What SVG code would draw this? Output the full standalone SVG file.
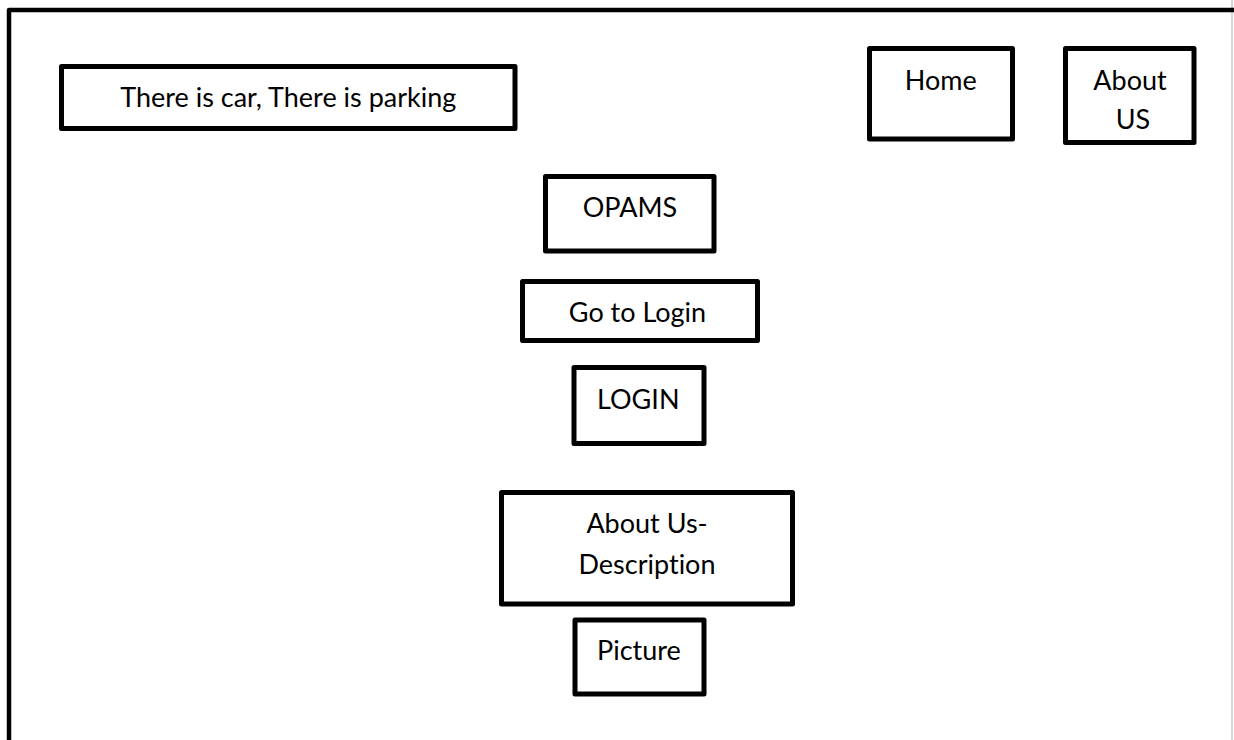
<svg xmlns="http://www.w3.org/2000/svg" width="1234" height="740" viewBox="0 0 1234 740">
<style>
.box{fill:#fff;stroke:#000;stroke-width:5;stroke-linejoin:round}
.t{font-family:Lato,"Open Sans","Liberation Sans",sans-serif;font-size:27px;fill:#000;text-anchor:middle;font-variant-ligatures:none;font-feature-settings:"liga" 0,"clig" 0}
</style>
<rect x="0" y="0" width="1234" height="740" fill="#fff"/>
<g id="frame">
<line x1="1232" y1="0" x2="1232" y2="740" stroke="#c8c8c8" stroke-width="1.5"/>
<path d="M9,742 V10 H1234" fill="none" stroke="#000" stroke-width="4.5" stroke-linejoin="round"/>
</g>
<g id="title">
<rect class="box" x="61.5" y="66.5" width="453.5" height="62"/>
<text class="t" x="288.3" y="107">There is car, There is parking</text>
</g>
<g id="home">
<rect class="box" x="869.5" y="48.5" width="143" height="90.5"/>
<text class="t" x="940.8" y="89.5">Home</text>
</g>
<g id="aboutus">
<rect class="box" x="1065.5" y="48.5" width="128.5" height="94"/>
<text class="t" x="1130" y="90">About</text>
<text class="t" x="1133" y="128.5">US</text>
</g>
<g id="opams">
<rect class="box" x="545.5" y="176.5" width="168.5" height="74.5"/>
<text class="t" x="630" y="217">OPAMS</text>
</g>
<g id="gotologin">
<rect class="box" x="522.5" y="281.5" width="235" height="59"/>
<text class="t" x="637.5" y="322">Go to Login</text>
</g>
<g id="login">
<rect class="box" x="574" y="367.5" width="130" height="76"/>
<text class="t" x="638.3" y="408.5">LOGIN</text>
</g>
<g id="description">
<rect class="box" x="501.5" y="492.5" width="291" height="111.5"/>
<text class="t" x="647" y="532.5">About Us-</text>
<text class="t" x="647" y="573.5">Description</text>
</g>
<g id="picture">
<rect class="box" x="575" y="620" width="129" height="74"/>
<text class="t" x="639" y="659.5">Picture</text>
</g>
<g id="connectors"></g>
</svg>
